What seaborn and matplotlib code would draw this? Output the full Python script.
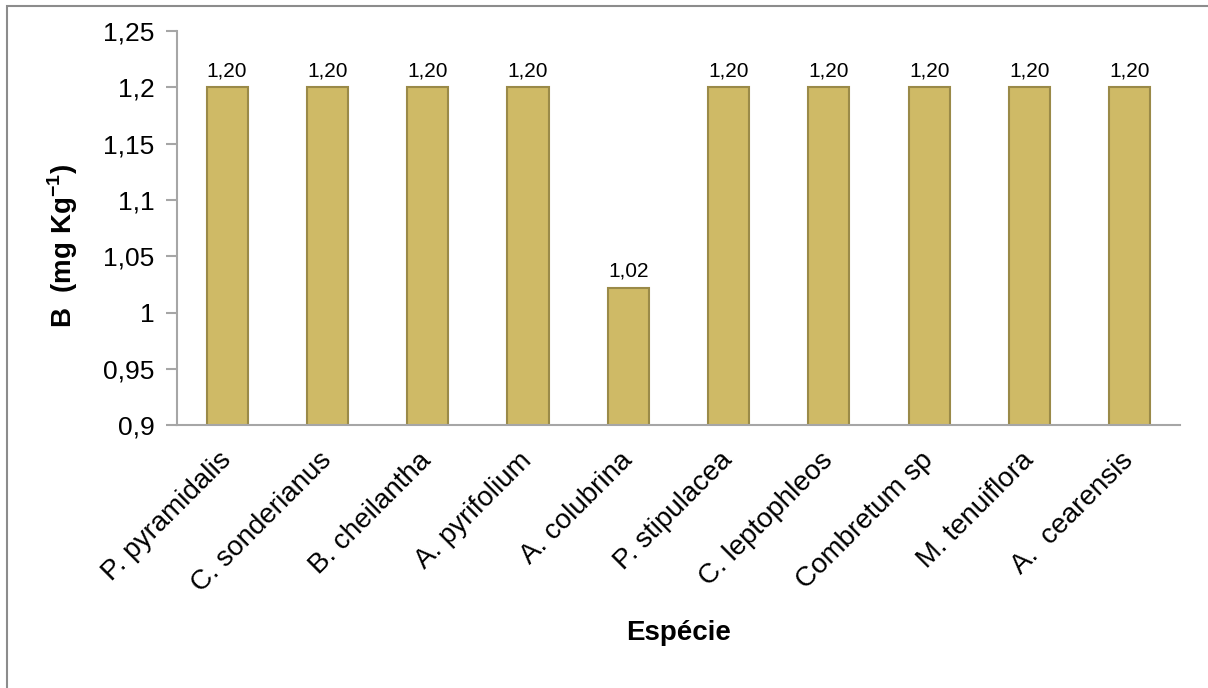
import matplotlib
matplotlib.use("Agg")
import matplotlib.pyplot as plt
import matplotlib.patches as mpatches
from matplotlib.ticker import FuncFormatter, MultipleLocator
import seaborn as sns
import pandas as pd

# species and boron content (mg/kg)
especies = ["P. pyramidalis", "C. sonderianus", "B. cheilantha", "A. pyrifolium",
            "A. colubrina", "P. stipulacea", "C. leptophleos", "Combretum sp",
            "M. tenuiflora", "A.  cearensis"]
boro = [1.20, 1.20, 1.20, 1.20, 1.022, 1.20, 1.20, 1.20, 1.20, 1.20]

bar_color = "#CFBA66"
edge_color = "#9A8A48"
spine_color = "#A6A6A6"

sns.set_style("white")
plt.rcParams["font.family"] = ["Liberation Sans", "DejaVu Sans"]
plt.rcParams["mathtext.fontset"] = "custom"
plt.rcParams["mathtext.rm"] = "Liberation Sans"
plt.rcParams["mathtext.bf"] = "Liberation Sans:bold"
for k in ["text.color", "axes.labelcolor", "xtick.labelcolor", "ytick.labelcolor"]:
    plt.rcParams[k] = "black"

df = pd.DataFrame({"especie": especies, "boro": boro})

fig = plt.figure(figsize=(12.08, 6.88), dpi=100)
ax = fig.add_axes([0.1465, 0.382, 0.8303, 0.573])

sns.barplot(data=df, x="especie", y="boro", color=bar_color, edgecolor=edge_color,
            linewidth=1.5, width=0.41, saturation=1, ax=ax)

ax.set_ylim(0.9, 1.25)
ax.yaxis.set_major_locator(MultipleLocator(0.05))
ax.yaxis.set_major_formatter(FuncFormatter(lambda v, p: f"{round(v, 2):g}".replace(".", ",")))

for c in ax.containers:
    ax.bar_label(c, labels=[f"{v:.2f}".replace(".", ",") for v in boro],
                 padding=5, fontsize=15, color="black")

sns.despine(ax=ax)
for s in ["left", "bottom"]:
    ax.spines[s].set_color(spine_color)
    ax.spines[s].set_linewidth(1.5)

ax.tick_params(axis="y", which="major", left=True, length=8, width=1.5,
               color=spine_color, labelsize=19, pad=8)
ax.tick_params(axis="x", bottom=False, labelsize=20, pad=19)
plt.setp(ax.get_xticklabels(), rotation=45, ha="right", va="center", rotation_mode="anchor")

ax.set_xlabel("Espécie", fontsize=20, fontweight="bold")
ax.set_ylabel(r"B  (mg Kg$^{\mathbf{-1}}$)", fontsize=20, fontweight="bold")
ax.xaxis.set_label_coords(0.5, -0.495)
ax.yaxis.set_label_coords(-0.097, 0.455)

# outer chart-area border (cut off at right and bottom in the original)
fig.patches.append(mpatches.Rectangle((7 / 1208, -0.1), 1.2, 0.1 + 1 - 6 / 688,
                                      transform=fig.transFigure, fill=False,
                                      edgecolor="#8C8C8C", linewidth=1.5))

fig.savefig("out.png", dpi=100)
